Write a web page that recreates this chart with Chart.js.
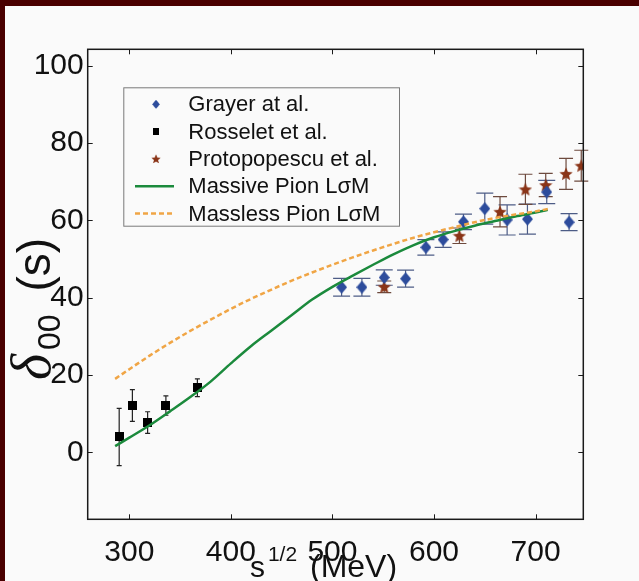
<!DOCTYPE html>
<html lang="en">
<head>
<meta charset="UTF-8">
<title>delta00 phase shift</title>
<script src="https://cdn.jsdelivr.net/npm/chart.js@4.4.0/dist/chart.umd.min.js"></script>
<style>
    html, body { margin: 0; padding: 0; background: #4a0000; overflow: hidden; }
    .frame { position: absolute; left: 5px; top: 6px; width: 634px; height: 575px; background: #fafafa; }
    canvas { display: block; }
</style>
</head>
<body>
<div class="frame"><canvas id="phase" width="634" height="575"></canvas></div>
<script>
const xTicks = [300, 400, 500, 600, 700];
const yTicks = [0, 20, 40, 60, 80, 100];

// Grayer et al.
const grayerX = [509, 529, 551, 572, 592, 609, 629, 650, 672, 692, 711, 733];
const grayerY = [42.7, 42.7, 45.2, 44.9, 53, 55, 59.6, 63, 60.1, 60.3, 67.3, 59.5];
const grayerErr = [2.3, 2.3, 2, 2.2, 2, 2, 2, 4, 3.9, 3.9, 3, 2.2];

// Rosselet et al.
const rosseletX = [290, 303, 318, 336, 367];
const rosseletY = [4, 12.1, 7.7, 12.1, 16.7];
const rosseletErr = [7.4, 4.1, 2.8, 2.5, 2.3];

// Protopopescu et al.
const protoX = [551, 625, 665, 690, 710, 730, 745];
const protoY = [42.8, 56, 62.2, 68, 69.1, 72, 74.1];
const protoErr = [1.5, 2, 3.9, 3.9, 3, 4, 4];

// model curves
const curveX = [286, 300, 320, 340, 360, 380, 400, 420, 440, 460, 480, 500, 520, 540, 560, 580, 600, 620, 640, 660, 680, 700, 712];
const massiveY = [1.6, 3.8, 7.0, 10.6, 14.3, 18.3, 23, 27.5, 31.5, 35.5, 39.5, 42.8, 45.7, 48.5, 51.2, 53.6, 55.6, 57.2, 58.6, 59.8, 61, 62, 62.7];
const masslessY = [19, 21.5, 25, 28.3, 31.4, 34.3, 37.1, 39.7, 42.1, 44.4, 46.5, 48.5, 50.4, 52.2, 53.9, 55.5, 56.9, 58.2, 59.5, 60.6, 61.5, 62.3, 62.9];

const FONT = '"Liberation Sans", Arial, sans-serif';
const BLUE = '#2d4c9c';
const BROWN = '#8a3417';
const GREEN = '#1b8a3c';
const ORANGE = '#f0a545';

const pts = (xs, ys) => xs.map((v, i) => ({ x: v, y: ys[i] }));

// marker images
function markerCanvas(w, h, draw) {
    const c = document.createElement('canvas');
    c.width = w; c.height = h;
    draw(c.getContext('2d'), w, h);
    return c;
}
const diamond = markerCanvas(11, 13, (g, w, h) => {
    g.beginPath();
    g.moveTo(w / 2, 0); g.lineTo(w, h / 2); g.lineTo(w / 2, h); g.lineTo(0, h / 2);
    g.closePath(); g.fillStyle = BLUE; g.fill();
});
const square = markerCanvas(9, 9, (g, w, h) => {
    g.fillStyle = '#000'; g.fillRect(0, 0, w, h);
});
const star = markerCanvas(14, 14, (g, w, h) => {
    const r = w / 2, ri = r * 0.45;
    g.beginPath();
    for (let i = 0; i < 10; i++) {
        const a = -Math.PI / 2 + i * Math.PI / 5;
        const rr = i % 2 ? ri : r;
        g.lineTo(r + rr * Math.cos(a), r + 0.6 + rr * Math.sin(a));
    }
    g.closePath(); g.fillStyle = BROWN; g.fill();
});

// vertical error bars with caps, under the markers
const errorBars = {
    id: 'errorBars',
    beforeDatasetsDraw(chart) {
        const { ctx, scales: { x, y } } = chart;
        chart.data.datasets.forEach(ds => {
            if (!ds.errors) return;
            ctx.save();
            ctx.strokeStyle = ds.errColor;
            ctx.lineWidth = 1.2;
            ds.data.forEach((p, k) => {
                const px = x.getPixelForValue(p.x);
                const top = y.getPixelForValue(p.y + ds.errors[k]);
                const bot = y.getPixelForValue(p.y - ds.errors[k]);
                const w = ds.capWidth / 2;
                ctx.beginPath();
                ctx.moveTo(px, top); ctx.lineTo(px, bot);
                ctx.moveTo(px - w, top); ctx.lineTo(px + w, top);
                ctx.moveTo(px - w, bot); ctx.lineTo(px + w, bot);
                ctx.stroke();
            });
            ctx.restore();
        });
    }
};

// text pieces drawn one after another (for sub/superscripts)
function drawRuns(ctx, runs, x0, y0) {
    let x = x0;
    runs.forEach(r => {
        ctx.font = r.font;
        ctx.fillText(r.text, x, y0 + (r.dy || 0));
        x += ctx.measureText(r.text).width + (r.gap || 0);
    });
}
function runsWidth(ctx, runs) {
    return runs.reduce((s, r) => { ctx.font = r.font; return s + ctx.measureText(r.text).width + (r.gap || 0); }, 0);
}

// box, inward ticks, legend and axis titles
const frame = {
    id: 'frame',
    afterDraw(chart) {
        const { ctx, chartArea: a, scales: { x, y } } = chart;
        ctx.save();
        ctx.strokeStyle = '#1a1a1a';
        ctx.lineWidth = 1;
        ctx.beginPath();
        xTicks.forEach(v => {
            const px = Math.round(x.getPixelForValue(v)) + 0.5;
            ctx.moveTo(px, a.bottom); ctx.lineTo(px, a.bottom - 5);
            ctx.moveTo(px, a.top); ctx.lineTo(px, a.top + 5);
        });
        yTicks.forEach(v => {
            const py = Math.round(y.getPixelForValue(v)) + 0.5;
            ctx.moveTo(a.left, py); ctx.lineTo(a.left + 5, py);
            ctx.moveTo(a.right, py); ctx.lineTo(a.right - 5, py);
        });
        ctx.stroke();
        ctx.lineWidth = 1.5;
        ctx.strokeRect(a.left, a.top, a.right - a.left, a.bottom - a.top);

        // legend
        const lx = a.left + 35.6, ly = a.top + 38, lw = 275.7, lh = 138.4;
        ctx.fillStyle = '#fafafa';
        ctx.fillRect(lx, ly, lw, lh);
        ctx.strokeStyle = '#7a7a7a';
        ctx.lineWidth = 1;
        ctx.strokeRect(lx + 0.5, ly + 0.5, lw, lh);
        ctx.textBaseline = 'middle';
        ctx.textAlign = 'left';
        ctx.font = '22px ' + FONT;
        chart.data.datasets.forEach((ds, i) => {
            const cy = ly + 17 + i * 27.3;
            if (ds.showLine) {
                ctx.save();
                ctx.strokeStyle = ds.borderColor;
                ctx.lineWidth = ds.borderWidth;
                ctx.setLineDash(ds.borderDash || []);
                ctx.beginPath();
                ctx.moveTo(lx + 11.7, cy); ctx.lineTo(lx + 50.7, cy);
                ctx.stroke();
                ctx.restore();
            } else {
                const img = ds.legendImage;
                const s = 0.7;
                ctx.drawImage(img, lx + 32.7 - img.width * s / 2, cy - img.height * s / 2, img.width * s, img.height * s);
            }
            ctx.fillStyle = '#111';
            ctx.fillText(ds.label, lx + 65, cy + 1);
        });

        // x title: s^{1/2} (MeV)
        ctx.fillStyle = '#111';
        ctx.textBaseline = 'alphabetic';
        const xr = [
            { text: 's', font: '30px ' + FONT, gap: 3 },
            { text: '1/2', font: '21px ' + FONT, dy: -16, gap: 4 },
            { text: ' (MeV)', font: '32px ' + FONT }
        ];
        const cx = (a.left + a.right) / 2 - 12;
        drawRuns(ctx, xr, cx - runsWidth(ctx, xr) / 2, 571);

        // y title: delta_00 (s), rotated
        const yr = [
            { text: 'δ', font: 'italic 56px "Liberation Serif", serif', gap: 4 },
            { text: '00', font: '32px ' + FONT, dy: 10, gap: 10 },
            { text: ' (s)', font: '46px ' + FONT }
        ];
        ctx.translate(45, 303);
        ctx.rotate(-Math.PI / 2);
        drawRuns(ctx, yr, -runsWidth(ctx, yr) / 2, 0);
        ctx.restore();
    }
};

Chart.defaults.color = '#111';
Chart.defaults.font.family = FONT;

new Chart(document.getElementById('phase'), {
    type: 'scatter',
    data: {
        datasets: [
            {
                label: 'Grayer at al.',
                data: pts(grayerX, grayerY),
                errors: grayerErr, errColor: '#4d5c86', capWidth: 17,
                pointStyle: diamond, legendImage: diamond,
                order: 2
            },
            {
                label: 'Rosselet et al.',
                data: pts(rosseletX, rosseletY),
                errors: rosseletErr, errColor: '#222', capWidth: 5,
                pointStyle: square, legendImage: square,
                order: 2
            },
            {
                label: 'Protopopescu et al.',
                data: pts(protoX, protoY),
                errors: protoErr, errColor: '#6d4a3e', capWidth: 14,
                pointStyle: star, legendImage: star,
                order: 2
            },
            {
                label: 'Massive Pion LσM',
                data: pts(curveX, massiveY),
                showLine: true, pointRadius: 0,
                borderColor: GREEN, borderWidth: 2.5,
                cubicInterpolationMode: 'monotone',
                order: 1
            },
            {
                label: 'Massless Pion LσM',
                data: pts(curveX, masslessY),
                showLine: true, pointRadius: 0,
                borderColor: ORANGE, borderWidth: 2.5, borderDash: [5, 3],
                cubicInterpolationMode: 'monotone',
                order: 0
            }
        ]
    },
    options: {
        responsive: false,
        animation: false,
        layout: { padding: { left: 0, top: 43.3, right: 55.7, bottom: 0 } },
        plugins: { legend: { display: false }, tooltip: { enabled: false } },
        scales: {
            x: {
                type: 'linear', min: 259, max: 747,
                grid: { display: false, drawTicks: false },
                border: { display: false },
                ticks: { font: { size: 30 }, padding: 15, color: '#111' },
                afterBuildTicks: s => { s.ticks = xTicks.map(v => ({ value: v })); },
                afterFit: s => { s.height = 61.7; }
            },
            y: {
                min: -17.3, max: 104.2,
                grid: { display: false, drawTicks: false },
                border: { display: false },
                ticks: { font: { size: 30 }, padding: 4, color: '#111' },
                afterBuildTicks: s => { s.ticks = yTicks.map(v => ({ value: v })); },
                afterFit: s => { s.width = 82.7; }
            }
        }
    },
    plugins: [errorBars, frame]
});
</script>
</body>
</html>
